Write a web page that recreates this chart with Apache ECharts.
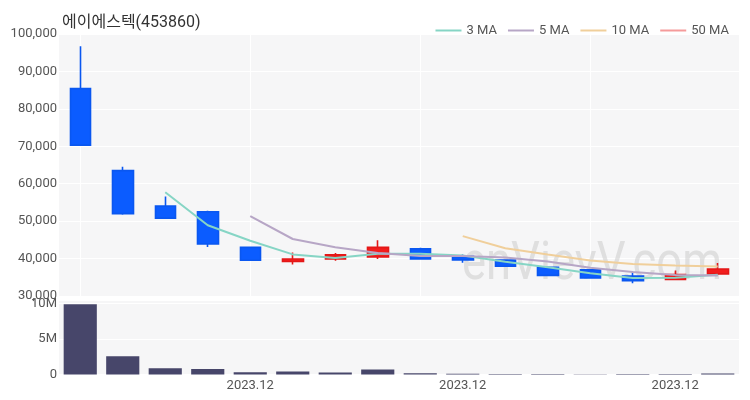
<!DOCTYPE html>
<html><head><meta charset="utf-8">
<script src="https://cdn.jsdelivr.net/npm/echarts@6/dist/echarts.min.js"></script>
<style>html,body{margin:0;padding:0;background:#fff}#c{width:750px;height:400px}</style>
</head><body><div id="c"></div>
<script>
const chartTitle = '에이에스텍(453860)';
const categories = ['2023.12.05','2023.12.06','2023.12.07','2023.12.08','2023.12.11','2023.12.12','2023.12.13','2023.12.14','2023.12.15','2023.12.18','2023.12.19','2023.12.20','2023.12.21','2023.12.22','2023.12.26','2023.12.27'];
const opens  = [85400, 63500, 54000, 52500, 43000, 39200, 39900, 40400, 42600, 40600, 39600, 37700, 37000, 35300, 34400, 35900];
const closes = [70300, 52000, 50800, 43900, 39550, 39900, 41000, 43000, 39900, 39600, 37950, 35500, 34800, 34100, 35700, 37200];
const lows   = [70300, 51700, 50800, 43100, 39500, 38400, 39400, 39900, 39800, 38900, 37900, 35500, 34700, 33400, 34300, 35900];
const highs  = [96700, 64500, 56600, 52800, 43200, 41600, 41500, 44900, 42900, 41100, 39800, 37900, 37100, 36500, 36800, 38800];
const volumes = [9900000, 2580000, 890000, 790000, 320000, 420000, 280000, 710000, 180000, 100000, 80000, 70000, 50000, 60000, 80000, 150000];
const ma3  = ['-', '-', 57700, 48900, 44750, 41120, 40150, 41300, 41300, 40830, 39150, 37680, 36080, 34800, 34870, 35670];
const ma5  = ['-', '-', '-', '-', 51310, 45230, 43030, 41470, 40670, 40680, 40290, 39190, 37550, 36390, 35610, 35460];
const ma10 = ['-', '-', '-', '-', '-', '-', '-', '-', '-', 46000, 42760, 41110, 39510, 38530, 38150, 37880];
const ma50 = categories.map(() => '-');
const maNames = ['3 MA', '5 MA', '10 MA', '50 MA'];
const priceTicks = { min: 30000, max: 100000, interval: 10000 };
const volumeTicks = { min: 0, max: 10500000, interval: 5000000 };
const dateLabelIdx = [4, 9, 14];

const FONT = 'Roboto, "Noto Sans CJK KR", sans-serif';
const candleData = opens.map((o, i) => [o, closes[i], lows[i], highs[i]]);
const chart = echarts.init(document.getElementById('c'), null, { renderer: 'canvas' });
const maColors = ['#86d5c5', '#b7a6c6', '#f0cf9b', '#f59b9b'];
const maData = [ma3, ma5, ma10, ma50];
chart.setOption({
  animation: false,
  textStyle: { fontFamily: FONT },
  title: { text: chartTitle, left: 57, top: 10, textStyle: { fontSize: 16, fontWeight: 'normal', color: '#333', fontFamily: FONT } },
  legend: {
    data: maNames.map(n => ({ name: n, icon: 'rect' })), right: 16, top: 19, itemGap: 11, itemWidth: 26, itemHeight: 2,
    textStyle: { fontSize: 13, color: '#555', fontFamily: FONT }
  },
  graphic: [{
    type: 'text', x: 462, y: 238, scaleX: 0.84, z: 1, silent: true,
    style: { text: 'enVievV.com', fontSize: 54, fontFamily: 'Roboto, sans-serif', fill: 'rgba(200,200,200,0.5)' }
  }],
  grid: [
    { left: 59, right: 11, top: 34, height: 262, show: true, backgroundColor: '#f6f6f7', borderWidth: 0 },
    { left: 59, right: 11, top: 300, height: 74.5, show: true, backgroundColor: '#f6f6f7', borderWidth: 0 }
  ],
  xAxis: [
    { type: 'category', gridIndex: 0, data: categories, boundaryGap: true,
      axisLine: { show: false }, axisTick: { show: false }, axisLabel: { show: false },
      splitLine: { show: true, interval: 3, alignWithLabel: true, lineStyle: { color: '#ffffff', width: 1 } } },
    { type: 'category', gridIndex: 1, data: categories, boundaryGap: true,
      axisLine: { show: false }, axisTick: { show: false }, splitLine: { show: false },
      axisLabel: { interval: (idx) => dateLabelIdx.includes(idx), formatter: (v) => v.slice(0, 7), fontSize: 13, color: '#555', margin: 5, fontFamily: FONT } }
  ],
  yAxis: [
    { type: 'value', gridIndex: 0, min: priceTicks.min, max: priceTicks.max, interval: priceTicks.interval,
      axisLine: { show: false }, axisTick: { show: false },
      axisLabel: { fontSize: 13, color: '#555', margin: 2, fontFamily: FONT, formatter: (v) => v.toLocaleString('en-US') },
      splitLine: { lineStyle: { color: '#ffffff', width: 1 } } },
    { type: 'value', gridIndex: 1, min: volumeTicks.min, max: volumeTicks.max, interval: volumeTicks.interval,
      axisLine: { show: false }, axisTick: { show: false },
      axisLabel: { fontSize: 13, color: '#555', margin: 2, showMaxLabel: false, fontFamily: FONT, formatter: (v) => v === 0 ? '0' : (v / 1e6) + 'M' },
      splitLine: { lineStyle: { color: '#ffffff', width: 1 } } }
  ],
  series: [
    { type: 'candlestick', name: 'price', xAxisIndex: 0, yAxisIndex: 0, data: candleData, barWidth: 21, z: 3,
      itemStyle: { color: '#f21d1d', color0: '#0b5cff', borderColor: '#e31717', borderColor0: '#0a57f0', borderWidth: 1.6 } },
    ...maNames.map((n, k) => ({ type: 'line', name: n, xAxisIndex: 0, yAxisIndex: 0, data: maData[k], symbol: 'none', z: 4,
      lineStyle: { color: maColors[k], width: 2 }, itemStyle: { color: maColors[k] } })),
    { type: 'bar', name: 'volume', xAxisIndex: 1, yAxisIndex: 1, data: volumes, barWidth: '78%', itemStyle: { color: '#47466a' } }
  ]
});
</script></body></html>
